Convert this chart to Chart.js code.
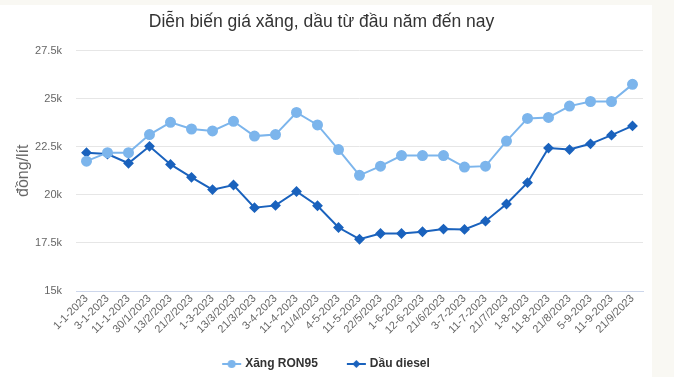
<!DOCTYPE html>
<html lang="vi">
<head>
<meta charset="UTF-8">
<title>Diễn biến giá xăng, dầu</title>
<script src="https://cdn.jsdelivr.net/npm/chart.js"></script>
<style>
  html, body { margin: 0; padding: 0; background: #f9f8f3; overflow: hidden; }
  #box { position: absolute; left: 0; top: 5px; width: 652px; height: 375px; background: #fff; }
</style>
</head>
<body>
<div id="box"><canvas id="myChart" width="652" height="375"></canvas></div>
<script>
// ngày điều chỉnh giá
const labels = ['1-1-2023', '3-1-2023', '11-1-2023', '30/1/2023', '13/2/2023', '21/2/2023', '1-3-2023',
  '13/3/2023', '21/3/2023', '3-4-2023', '11-4-2023', '21/4/2023', '4-5-2023', '11-5-2023', '22/5/2023',
  '1-6-2023', '12-6-2023', '21/6/2023', '3-7-2023', '11-7-2023', '21/7/2023', '1-8-2023', '11-8-2023',
  '21/8/2023', '5-9-2023', '11-9-2023', '21/9/2023'];

// giá đồng/lít
const ron95 = [21750, 22190, 22190, 23130, 23770, 23420, 23320, 23820, 23050, 23130, 24280, 23630, 22350, 21010,
  21490, 22040, 22040, 22040, 21440, 21490, 22790, 23970, 24020, 24610, 24850, 24850, 25740];
const diesel = [22190, 22120, 21640, 22520, 21580, 20910, 20270, 20510, 19330, 19450, 20170, 19430, 18300, 17690,
  17990, 17990, 18080, 18220, 18200, 18630, 19520, 20630, 22430, 22350, 22650, 23100, 23580];

const yTicks = [15000, 17500, 20000, 22500, 25000, 27500];

const lightBlue = '#7cb5ec';
const darkBlue = '#1a62bd';

// icon cho chú thích: đường + điểm (bên trái để trống cho khoảng cách)
function legendIcon(color, diamond) {
  const c = document.createElement('canvas');
  c.width = 32; c.height = 10;
  const g = c.getContext('2d');
  g.strokeStyle = color; g.lineWidth = 2;
  g.beginPath(); g.moveTo(12, 5); g.lineTo(31, 5); g.stroke();
  g.fillStyle = color;
  g.beginPath();
  if (diamond) {
    g.moveTo(21.5, 1); g.lineTo(25.5, 5); g.lineTo(21.5, 9); g.lineTo(17.5, 5); g.closePath();
  } else {
    g.arc(21.5, 5, 4, 0, Math.PI * 2);
  }
  g.fill();
  return c;
}
const icons = [legendIcon(lightBlue, false), legendIcon(darkBlue, true)];

new Chart(document.getElementById('myChart'), {
  type: 'line',
  data: {
    labels: labels,
    datasets: [
      {
        label: 'Xăng RON95',
        data: ron95,
        borderColor: lightBlue,
        backgroundColor: lightBlue,
        borderWidth: 2,
        pointRadius: 4.5,
        pointHoverRadius: 5,
        pointStyle: 'circle',
        tension: 0
      },
      {
        label: 'Dầu diesel',
        data: diesel,
        borderColor: darkBlue,
        backgroundColor: darkBlue,
        borderWidth: 2,
        pointRadius: 4,
        pointHoverRadius: 5,
        pointStyle: 'rectRot',
        tension: 0
      }
    ]
  },
  options: {
    responsive: false,
    animation: false,
    layout: { padding: { left: 0, right: 9, top: 0, bottom: 0 } },
    plugins: {
      title: {
        display: true,
        text: 'Diễn biến giá xăng, dầu từ đầu năm đến nay',
        color: '#333',
        font: { family: 'Liberation Sans', size: 17.5, weight: 'normal' },
        padding: { top: 7, bottom: 17.5 }
      },
      legend: {
        position: 'bottom',
        labels: {
          usePointStyle: true,
          pointStyleWidth: 26,
          padding: 20,
          color: '#333',
          font: { family: 'Liberation Sans', size: 12, weight: 'bold' },
          generateLabels: (chart) => chart.data.datasets.map((ds, i) => ({
            text: ds.label,
            pointStyle: icons[i],
            fillStyle: ds.borderColor,
            strokeStyle: ds.borderColor,
            lineWidth: 0,
            fontColor: '#333',
            hidden: !chart.isDatasetVisible(i),
            datasetIndex: i
          }))
        }
      },
      tooltip: { enabled: false }
    },
    scales: {
      x: {
        offset: true,
        grid: { display: false, drawTicks: false },
        border: { color: '#ccd6eb' },
        ticks: {
          autoSkip: false,
          maxRotation: 45,
          minRotation: 45,
          padding: 1,
          color: '#666',
          font: { family: 'Liberation Sans', size: 11 }
        },
        afterFit: (scale) => { scale.height = 47; }
      },
      y: {
        min: 15000,
        max: 27500,
        afterBuildTicks: (scale) => { scale.ticks = yTicks.map(v => ({ value: v })); },
        grid: { color: '#e6e6e6', drawTicks: false },
        border: { display: false },
        ticks: {
          padding: 14,
          color: '#666',
          font: { family: 'Liberation Sans', size: 11 },
          callback: (v) => (v / 1000) + 'k'
        },
        title: {
          display: true,
          text: 'đồng/lít',
          color: '#666',
          font: { family: 'Liberation Sans', size: 16 },
          padding: { top: 14, bottom: 0 }
        },
        afterFit: (scale) => { scale.width = 76; }
      }
    }
  }
});
</script>
</body>
</html>
